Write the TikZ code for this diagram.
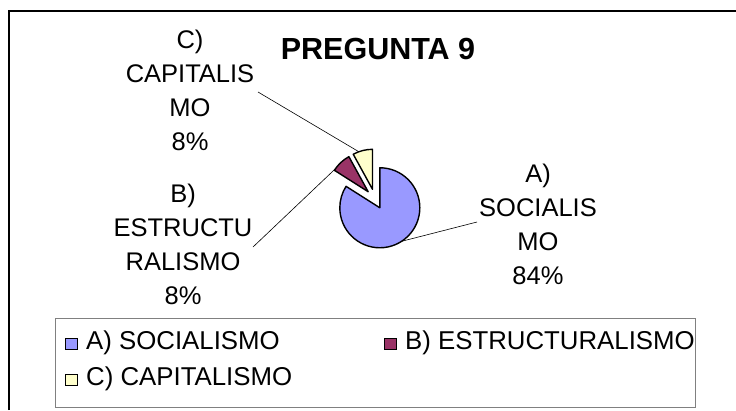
\documentclass[tikz,border=0pt]{standalone}
\usepackage{fontspec}
\setmainfont{Liberation Sans}
\definecolor{socia}{HTML}{9999FF}
\definecolor{estru}{HTML}{993366}
\definecolor{capit}{HTML}{FFFFCC}
\begin{document}
\begin{tikzpicture}[x=1pt,y=-1pt,
    lbl/.style={align=center,inner sep=0pt,font=\fontsize{25.5}{34}\selectfont},
    keytxt/.style={anchor=base west,inner sep=0pt,font=\fontsize{25.8}{30}\selectfont},
    slice/.style={draw=black,line width=1.4pt,line join=round},
    leader/.style={black,line width=0.6pt},
    keybox/.style={draw=black,line width=0.9pt,minimum size=11.5pt,inner sep=0pt}]
    \useasboundingbox (0,0) rectangle (736,410);
    \draw [ black,line width=2pt ] (9,410) -- (9,10.5) -- (736,10.5);
    \node (title) [ anchor=base,inner sep=0pt,font=\fontsize{30.5}{36}\selectfont\bfseries ] at (378,59) {PREGUNTA 9};

    % pie, slices pulled out from the centre
    \coordinate (ctr) at (375,199);
    \coordinate (va) at ([shift={(61.2:10)}]ctr);
    \coordinate (vb) at ([shift={(226.8:10)}]ctr);
    \coordinate (vc) at ([shift={(255.6:10)}]ctr);
    \filldraw [ slice,fill=socia ] (va) -- ++(-90:40) arc (-90:212.4:40) -- cycle;
    \filldraw [ slice,fill=estru ] (vb) -- ++(212.4:40) arc (212.4:241.2:40) -- cycle;
    \filldraw [ slice,fill=capit ] (vc) -- ++(241.2:40) arc (241.2:270:40) -- cycle;

    % data labels
    \node (laba) [ lbl,anchor=north ] at (538,164) {A)\\SOCIALIS\\MO\\84\%};
    \node (labb) [ lbl,anchor=north ] at (183,184) {B)\\ESTRUCTU\\RALISMO\\8\%};
    \node (labc) [ lbl,anchor=north ] at (190,30) {C)\\CAPITALIS\\MO\\8\%};
    \coordinate (enda) at (477,222);
    \coordinate (endb) at (253,247);
    \coordinate (endc) at (258,92);
    \coordinate (arca) at ([shift={(57:40)}]va);
    \coordinate (arcb) at ([shift={(215:40)}]vb);
    \coordinate (arcc) at ([shift={(250:40)}]vc);
    \draw [ leader ] (enda) -- (arca);
    \draw [ leader ] (endb) -- (arcb);
    \draw [ leader ] (endc) -- (arcc);

    % legend
    \node (legend) [ draw=gray,line width=0.9pt,inner sep=0pt,minimum width=640pt,minimum height=89pt ] at (375,362.5) {};
    \node (keya) [ keybox,fill=socia ] at (71.5,344) {};
    \node (keyb) [ keybox,fill=estru ] at (390.5,344) {};
    \node (keyc) [ keybox,fill=capit ] at (71.5,380) {};
    \node (texta) [ keytxt ] at (86,349) {A) SOCIALISMO};
    \node (textb) [ keytxt ] at (405,349) {B) ESTRUCTURALISMO};
    \node (textc) [ keytxt ] at (86,385) {C) CAPITALISMO};
\end{tikzpicture}
\end{document}
